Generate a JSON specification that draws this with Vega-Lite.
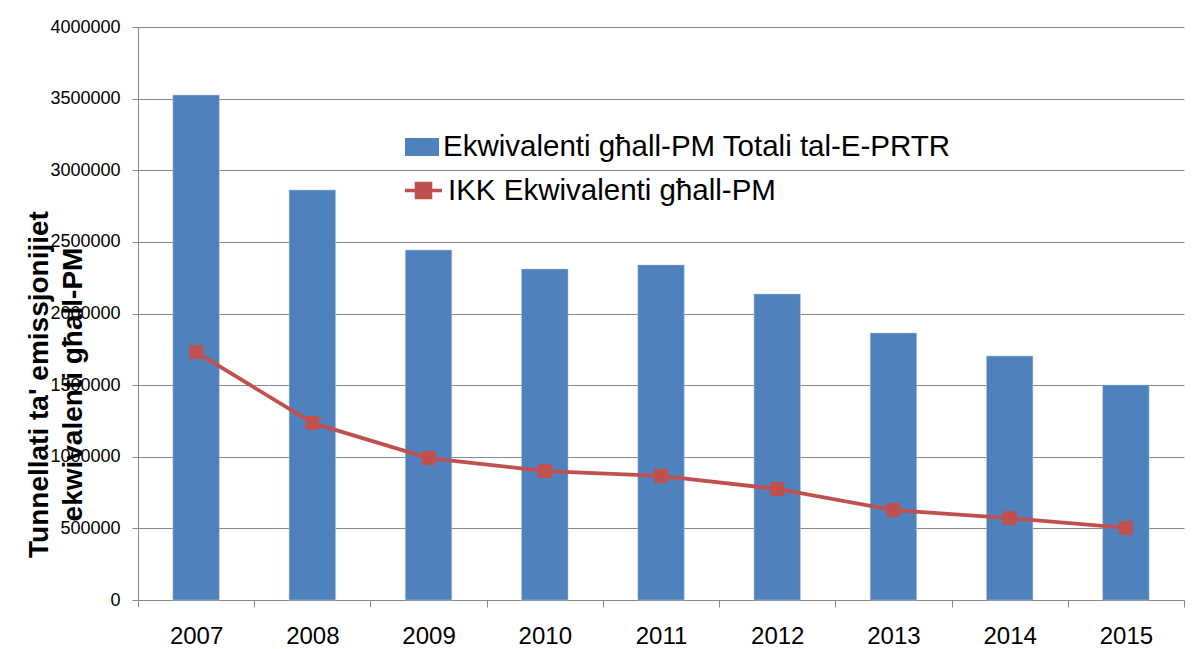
{
  "$schema": "https://vega.github.io/schema/vega-lite/v6.json",
  "width": 1046,
  "height": 573,
  "autosize": {"type": "none"},
  "padding": {"left": 138, "top": 27, "right": 16, "bottom": 49},
  "background": "white",
  "config": {
    "view": {"stroke": null},
    "font": "Liberation Sans",
    "axis": {"domainColor": "#888888", "tickColor": "#888888", "gridColor": "#888888", "labelColor": "#000000", "titleColor": "#000000"}
  },
  "data": {
    "values": [
      {"year": "2007", "prtr": 3525000, "ikk": 1731000},
      {"year": "2008", "prtr": 2862000, "ikk": 1236000},
      {"year": "2009", "prtr": 2443000, "ikk": 991000},
      {"year": "2010", "prtr": 2311000, "ikk": 900000},
      {"year": "2011", "prtr": 2339000, "ikk": 866000},
      {"year": "2012", "prtr": 2136000, "ikk": 775000},
      {"year": "2013", "prtr": 1864000, "ikk": 628000},
      {"year": "2014", "prtr": 1703000, "ikk": 572000},
      {"year": "2015", "prtr": 1501000, "ikk": 503000}
    ]
  },
  "encoding": {
    "x": {
      "field": "year", "type": "nominal",
      "scale": {"paddingInner": 0, "paddingOuter": 0},
      "axis": {"title": null, "labelAngle": 0, "labelFontSize": 24, "labelPadding": 17, "tickBand": "extent", "tickSize": 7, "grid": false}
    }
  },
  "layer": [
    {
      "mark": {"type": "bar", "stroke": "#b9cde5", "strokeWidth": 0.5, "width": {"band": 0.4}},
      "encoding": {
        "y": {
          "field": "prtr", "type": "quantitative",
          "scale": {"domain": [0, 4000000]},
          "axis": {
            "values": [0, 500000, 1000000, 1500000, 2000000, 2500000, 3000000, 3500000, 4000000],
            "format": "d", "labelFontSize": 18, "labelPadding": 12, "tickSize": 6,
            "title": ["Tunnellati ta' emissjonijiet", "ekwivalenti għall-PM"],
            "titleFontSize": 28, "titleFontWeight": "bold", "titleAngle": 270,
            "titleAlign": "center", "titleBaseline": "alphabetic", "titleLineHeight": 34,
            "titleX": -91, "titleY": 357
          }
        },
        "fill": {
          "datum": "Ekwivalenti għall-PM Totali tal-E-PRTR",
          "scale": {"range": ["#4F81BD"]},
          "legend": {
            "title": null, "orient": "none", "legendX": 267, "legendY": 103,
            "symbolType": "M-1,-0.53H1V0.53H-1Z", "symbolSize": 1156,
            "labelFontSize": 29.5, "labelColor": "#000000", "labelOffset": 4, "padding": 0, "labelLimit": 0,
            "symbolStrokeWidth": 0
          }
        }
      }
    },
    {
      "mark": {"type": "line", "strokeWidth": 3.8},
      "encoding": {
        "y": {"field": "ikk", "type": "quantitative"},
        "stroke": {
          "datum": "IKK Ekwivalenti għall-PM",
          "scale": {"range": ["#C0504D"]},
          "legend": {
            "title": null, "orient": "none", "legendX": 265, "legendY": 143,
            "symbolType": "M-1,0H1M-0.38,-0.38H0.38V0.38H-0.38Z", "symbolSize": 1369,
            "symbolStrokeWidth": 3.5,
            "labelFontSize": 29.5, "labelColor": "#000000", "labelOffset": 4, "padding": 0, "labelLimit": 0,
            "encode": {"symbols": {"update": {"fill": {"value": "#C0504D"}}}}
          }
        }
      }
    },
    {
      "mark": {"type": "point", "shape": "square", "size": 196, "filled": true, "color": "#C0504D", "opacity": 1},
      "encoding": {
        "y": {"field": "ikk", "type": "quantitative"}
      }
    }
  ],
  "resolve": {"legend": {"fill": "independent", "stroke": "independent"}}
}
